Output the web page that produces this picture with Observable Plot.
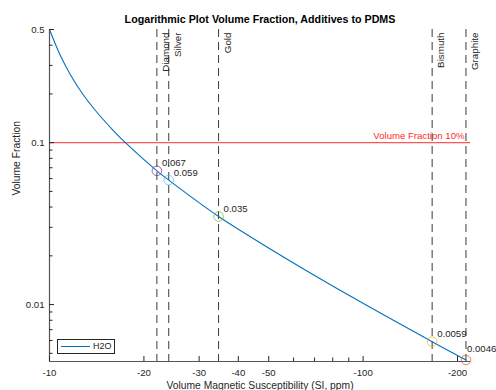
<!DOCTYPE html>
<html><head><meta charset="utf-8">
<script src="https://cdn.jsdelivr.net/npm/d3@7"></script>
<script src="https://cdn.jsdelivr.net/npm/@observablehq/plot@0.6"></script>
<style>
body{margin:0;background:#fff;font-family:"Liberation Sans",Arial,sans-serif;}
#wrap{position:relative;width:496px;height:390px;overflow:hidden;}
#legend{position:absolute;left:57px;top:339px;width:58px;height:15px;border:1px solid #262626;background:#fff;box-sizing:border-box;}
#legend .ln{position:absolute;left:3px;top:6px;width:29px;height:0;border-top:1.3px solid #0072BD;}
#legend .tx{position:absolute;left:35px;top:1px;font-size:9px;line-height:11px;color:#262626;}
</style></head><body><div id="wrap"></div>
<script>
// Curve (susceptibility in SI ppm, volume fraction)
const curveX = [-10, -10.84, -11.66, -12.71, -14.01, -15.84, -17.46, -22.0, -24.0, -34.6, -40.6, -58.5, -95.5, -166, -212.8];
const curveY = [0.5, 0.344, 0.263, 0.202, 0.158, 0.121, 0.1, 0.067, 0.0587, 0.035, 0.0287, 0.0186, 0.0107, 0.0059, 0.00455];
const seriesName = "H2O";

const materials = ["Diamond", "Silver", "Gold", "Bismuth", "Graphite"];
const materialChi = [-22, -24, -34.6, -166, -212.8];
const materialFrac = [0.067, 0.0587, 0.035, 0.0059, 0.00455];
const materialLabels = ["0.067", "0.059", "0.035", "0.0059", "0.0046"];
const materialColors = ["#7E2F8E", "#4DBEEE", "#77AC30", "#EDB120", "#D95319"];

const threshold = 0.1;
const thresholdLabel = "Volume Fraction 10%";

const xTicksMajor = [-10, -20, -30, -40, -50, -100, -200];
const xTicksMinor = [-60, -70, -80, -90];
const yTicksMajor = [0.5, 0.1, 0.01];
const yTicksMinor = [0.4, 0.3, 0.2, 0.09, 0.08, 0.07, 0.06, 0.05, 0.04, 0.03, 0.02, 0.009, 0.008, 0.007, 0.006, 0.005];

const xDomain = [-10, -220];
const yDomain = [0.00445, 0.5];

const title = "Logarithmic Plot Volume Fraction, Additives to PDMS";
const xLabel = "Volume Magnetic Susceptibility (SI, ppm)";
const yLabel = "Volume Fraction";

const W = 496, H = 390, mL = 49, mR = 26, mT = 29, mB = 29;
const fw = W - mL - mR, fh = H - mT - mB;

const curve = curveX.map((x, i) => ({x, y: curveY[i]}));
const mats = materials.map((name, i) => ({name, chi: materialChi[i], frac: materialFrac[i], label: materialLabels[i], color: materialColors[i]}));
const axisCol = "#262626";

const chart = Plot.plot({
  width: W, height: H,
  marginLeft: mL, marginRight: mR, marginTop: mT, marginBottom: mB,
  style: {fontFamily: "'Liberation Sans', Arial, sans-serif", fontSize: "9.6px", color: axisCol, background: "#fff", overflow: "visible"},
  x: {type: "log", domain: xDomain, axis: null},
  y: {type: "log", domain: yDomain, axis: null},
  marks: [
    // threshold line
    Plot.ruleY([threshold], {stroke: "#ff5555", strokeWidth: 1.2}),
    Plot.text([thresholdLabel], {frameAnchor: "right", y: [threshold], dx: -6, dy: -7, textAnchor: "end", lineAnchor: "middle", fill: "#ff2a2a", fontSize: 9.6}),
    // material vertical lines
    Plot.ruleX(mats, {x: "chi", stroke: "#3a3a3a", strokeWidth: 1, strokeDasharray: "8,5"}),
    Plot.text(mats, {x: "chi", text: "name", frameAnchor: "top", rotate: -90, textAnchor: "end", lineAnchor: "top", dx: 5, dy: 3, fontSize: 9.8, fill: axisCol}),
    // curve
    Plot.line(curve, {x: "x", y: "y", stroke: "#0072BD", strokeWidth: 1.1, curve: "catmull-rom"}),
    // markers
    Plot.dot(mats, {x: "chi", y: "frac", r: 4.8, stroke: "color", fill: "none", strokeOpacity: 0.7, strokeWidth: 1}),
    Plot.text(mats.slice(0, 4), {x: "chi", y: "frac", text: "label", dx: 5, dy: -7.5, textAnchor: "start", lineAnchor: "middle", fill: axisCol, fontSize: 9.6}),
    Plot.text(mats.slice(4), {x: "chi", y: "frac", text: "label", dx: 1, dy: -11, textAnchor: "start", lineAnchor: "middle", fill: axisCol, fontSize: 9.6}),
    // axes lines
    Plot.ruleX([xDomain[0]], {stroke: "#555", strokeWidth: 1.2}),
    Plot.ruleY([yDomain[0]], {stroke: "#555", strokeWidth: 1.2}),
    // inward ticks
    Plot.ruleX(xTicksMajor, {insetTop: fh - 5, stroke: axisCol, strokeWidth: 1}),
    Plot.ruleX(xTicksMinor, {insetTop: fh - 3.5, stroke: axisCol, strokeWidth: 1}),
    Plot.ruleY(yTicksMajor, {insetRight: fw - 5, stroke: axisCol, strokeWidth: 1}),
    Plot.ruleY(yTicksMinor, {insetRight: fw - 3.5, stroke: axisCol, strokeWidth: 1}),
    // tick labels
    Plot.text(xTicksMajor, {x: d => d, text: d => String(d), frameAnchor: "bottom", dy: 11.5, lineAnchor: "middle", fill: axisCol, fontSize: 9.6}),
    Plot.text(yTicksMajor, {y: d => d, text: d => String(d), frameAnchor: "left", dx: -5, textAnchor: "end", lineAnchor: "middle", fill: axisCol, fontSize: 9.6}),
    // titles
    Plot.text([title], {frameAnchor: "top", dy: -10.3, lineAnchor: "middle", fontWeight: "bold", fontSize: 10.7, fill: "#000"}),
    Plot.text([xLabel], {frameAnchor: "bottom", dy: 24.3, lineAnchor: "middle", fontSize: 10.3, fill: axisCol}),
    Plot.text([yLabel], {frameAnchor: "left", dx: -32.5, rotate: -90, lineAnchor: "middle", fontSize: 10.3, fill: axisCol})
  ]
});

const wrap = document.getElementById("wrap");
wrap.appendChild(chart);
const legend = document.createElement("div");
legend.id = "legend";
legend.innerHTML = `<div class="ln"></div><div class="tx">${seriesName}</div>`;
wrap.appendChild(legend);
</script>
</body></html>
